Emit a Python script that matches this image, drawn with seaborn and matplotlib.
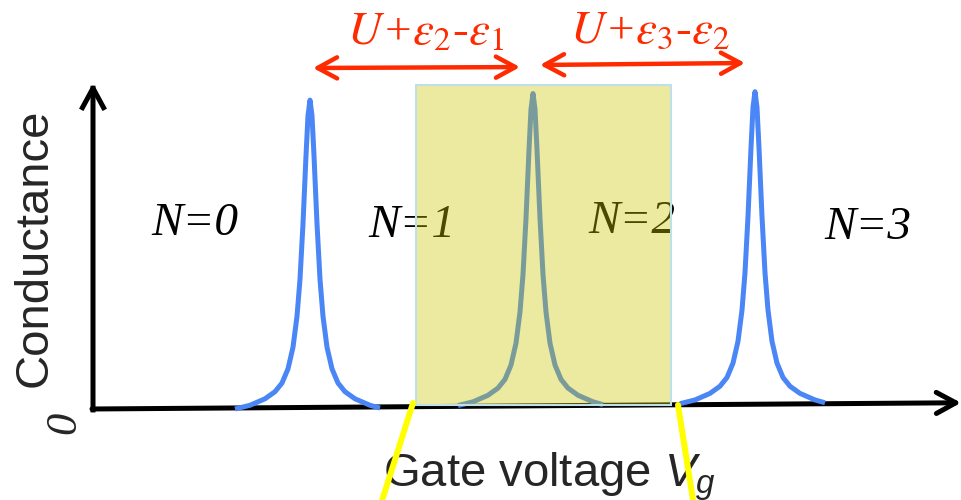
import matplotlib
matplotlib.use("Agg")
import matplotlib.pyplot as plt
from matplotlib.patches import Rectangle
import seaborn as sns

# Coulomb blockade peaks: conductance vs gate voltage (arb. units)
peak_centers = [2.17, 4.40, 6.62]
peak_heights = [0.99, 1.0, 1.0]
peak_base = [0.0, 0.011, 0.017]

# shape of one peak (offset from centre, relative height)
peak_offset = [-0.75, -0.60, -0.45, -0.35, -0.28, -0.22, -0.17, -0.13, -0.10, -0.07, -0.04, -0.02,
               0.0, 0.02, 0.04, 0.07, 0.10, 0.13, 0.17, 0.22, 0.28, 0.35, 0.45, 0.60, 0.70]
peak_shape = [0.0, 0.012, 0.033, 0.056, 0.084, 0.13, 0.20, 0.30, 0.42, 0.60, 0.82, 0.95,
              1.0, 0.95, 0.82, 0.60, 0.42, 0.30, 0.20, 0.13, 0.084, 0.056, 0.033, 0.012, 0.003]

charge_labels = ["N=0", "N=1", "N=2", "N=3"]
charge_x = [1.02, 3.19, 5.39, 7.75]
charge_y = [0.593, 0.587, 0.60, 0.58]

spacing_labels = [r"$U$+$\varepsilon_{\mathit{2}}$-$\varepsilon_{\mathit{1}}$",
                  r"$U$+$\varepsilon_{\mathit{3}}$-$\varepsilon_{\mathit{2}}$"]

blockade_region = (3.23, 5.78)

sns.set_style("white")
plt.rcParams["font.family"] = ["Liberation Sans", "DejaVu Sans"]
plt.rcParams["mathtext.fontset"] = "custom"
plt.rcParams["mathtext.rm"] = "Liberation Sans"
plt.rcParams["mathtext.it"] = "Liberation Sans:italic"

fig = plt.figure(figsize=(9.62, 5), dpi=100)
ax = fig.add_axes([0, 0, 1, 1])
ax.set_xlim(-0.93, 8.69)
ax.set_ylim(-0.2917, 1.3109)
ax.axis("off")

blue = "#4A86F5"
red = "#FF2A00"

# peaks
for c, h, b in zip(peak_centers, peak_heights, peak_base):
    xs = [c + o for o in peak_offset]
    ys = [b + h * s for s in peak_shape]
    sns.lineplot(x=xs, y=ys, ax=ax, color=blue, lw=3.6, sort=False,
                 estimator=None, zorder=2, solid_capstyle="butt")

# charge state labels
for lab, x, y in zip(charge_labels, charge_x, charge_y):
    ax.text(x, y, lab, family="Liberation Serif", style="italic", fontsize=34,
            ha="center", va="center", color="black", zorder=3)

# shaded blockade region (drawn on top, translucent)
ax.add_patch(Rectangle((blockade_region[0], 0.0128), blockade_region[1] - blockade_region[0],
                       1.0385 - 0.0128, facecolor=(0.80, 0.77, 0.0, 0.37),
                       edgecolor="#BFE0E6", lw=1.5, zorder=5))

# axes arrows
ax.annotate("", xy=(0, 1.045), xytext=(0, -0.003),
            arrowprops=dict(arrowstyle="->,head_length=0.7,head_width=0.38", lw=3.6,
                            color="black", shrinkA=0, shrinkB=0, mutation_scale=20,
                            capstyle="projecting"), zorder=4)
ax.annotate("", xy=(8.68, 0.020), xytext=(-0.01, 0.0),
            arrowprops=dict(arrowstyle="->,head_length=0.7,head_width=0.38", lw=3.6,
                            color="black", shrinkA=0, shrinkB=0, mutation_scale=20), zorder=1)

# level spacing arrows
ax.annotate("", xy=(4.27, 1.096), xytext=(2.20, 1.093),
            arrowprops=dict(arrowstyle="<->,head_length=0.7,head_width=0.38", lw=3.2,
                            color=red, shrinkA=0, shrinkB=0, mutation_scale=20), zorder=6)
ax.annotate("", xy=(6.52, 1.109), xytext=(4.47, 1.1026),
            arrowprops=dict(arrowstyle="<->,head_length=0.7,head_width=0.38", lw=3.2,
                            color=red, shrinkA=0, shrinkB=0, mutation_scale=20), zorder=6)
ax.text(2.54, 1.167, spacing_labels[0], family="Liberation Serif", style="italic",
        math_fontfamily="stix", fontsize=34, color=red, ha="left", va="baseline")
ax.text(4.77, 1.173, spacing_labels[1], family="Liberation Serif", style="italic",
        math_fontfamily="stix", fontsize=34, color=red, ha="left", va="baseline")

# axis titles
ax.text(-0.58, 0.516, "Conductance", fontsize=34, rotation=90, ha="center", va="center")
ax.text(2.90, -0.247, "Gate voltage $V_g$", fontsize=34, ha="left", va="baseline", zorder=3)
ax.text(-0.29, -0.045, "0", family="Liberation Serif", style="italic", fontsize=32,
        rotation=90, ha="center", va="center")

# yellow guide lines
ax.plot([3.20, 2.86], [0.0192, -0.324], color="#FFFF00", lw=4.3, zorder=7)
ax.plot([5.85, 6.016], [0.0128, -0.324], color="#FFFF00", lw=4.3, zorder=7)

fig.savefig("out.png", dpi=100)
